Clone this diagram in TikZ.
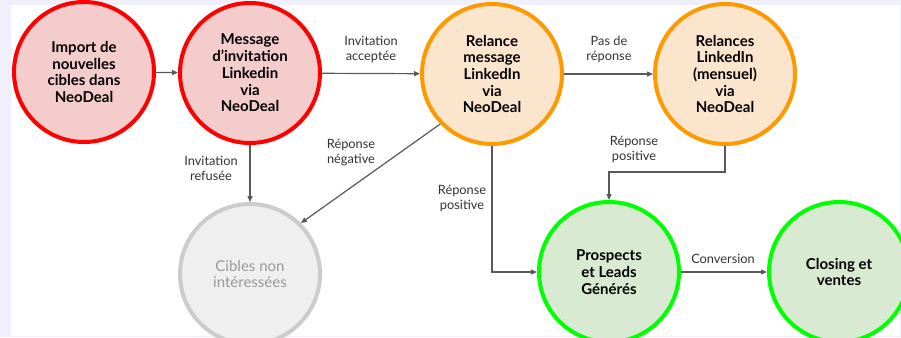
\documentclass[tikz,border=0pt]{standalone}
\usepackage{fontspec}
\setmainfont{Lato}
\usetikzlibrary{arrows.meta}
\definecolor{bgl}{HTML}{F0F0FC}
\definecolor{redS}{HTML}{FF0000}\definecolor{redF}{HTML}{F4CCCC}
\definecolor{orS}{HTML}{FF9900}\definecolor{orF}{HTML}{FCE5CD}
\definecolor{grS}{HTML}{00FF00}\definecolor{grF}{HTML}{D9EAD3}
\definecolor{gyS}{HTML}{CCCCCC}\definecolor{gyF}{HTML}{EFEFEF}
\definecolor{gyT}{HTML}{999999}
\definecolor{lnc}{HTML}{595959}
\definecolor{txc}{HTML}{333333}
\tikzset{
  circ/.style={circle, minimum size=140pt, inner sep=0pt, line width=4pt, align=center,
    font=\fontsize{15}{16.7}\selectfont\bfseries, text=black},
  redc/.style={circ, draw=redS, fill=redF},
  orc/.style={circ, draw=orS, fill=orF},
  grc/.style={circ, draw=grS, fill=grF},
  gyc/.style={circ, draw=gyS, fill=gyF, text=gyT, font=\fontsize{15}{16.7}\selectfont},
  conn/.style={draw=lnc, line width=1.2pt, -{Triangle[length=6pt,width=5pt]}},
  lbl/.style={align=center, text=txc, font=\fontsize{12.8}{15}\selectfont, inner sep=0pt}
}
\begin{document}
\begin{tikzpicture}[x=1pt,y=-1pt]
\useasboundingbox (0,0) rectangle (901,337);
\fill[bgl] (0,0) rectangle (901,337);
\fill[white] (11,5) rectangle (900,336);

\node[redc] (A) at (84,72) {Import de\\nouvelles\\cibles dans\\NeoDeal};
\node[redc] (B) at (250,73) {Message\\d’invitation\\Linkedin\\via\\NeoDeal};
\node[orc] (C) at (492,74) {Relance\\message\\LinkedIn\\via\\NeoDeal};
\node[orc] (D) at (725,74) {Relances\\LinkedIn\\(mensuel)\\via\\NeoDeal};
\node[gyc] (E) at (250,274) {Cibles non\\intéressées};
\node[grc] (F) at (609,272) {Prospects\\et Leads\\Générés};
\node[grc] (G) at (839,272) {Closing et\\ventes};

\draw[conn] (A) -- (B);
\draw[conn] (B) -- (C);
\draw[conn] (C) -- (D);
\draw[conn] (B) -- (E);
\draw[conn] (C.224) -- (E.45);
\draw[conn] (C.south) |- (F.west);
\draw[conn] (D.south) -- ++(0,26) -| (F.north);
\draw[conn] (F) -- (G);

\node[lbl] (l1) at (371,49) {Invitation\\acceptée};
\node[lbl] (l2) at (609,49) {Pas de\\réponse};
\node[lbl] (l3) at (211,168) {Invitation\\refusée};
\node[lbl] (l4) at (351,153) {Réponse\\négative};
\node[lbl] (l5) at (462,198) {Réponse\\positive};
\node[lbl] (l6) at (634,149) {Réponse\\positive};
\node[lbl] (l7) at (723,259) {Conversion};
\end{tikzpicture}
\end{document}
